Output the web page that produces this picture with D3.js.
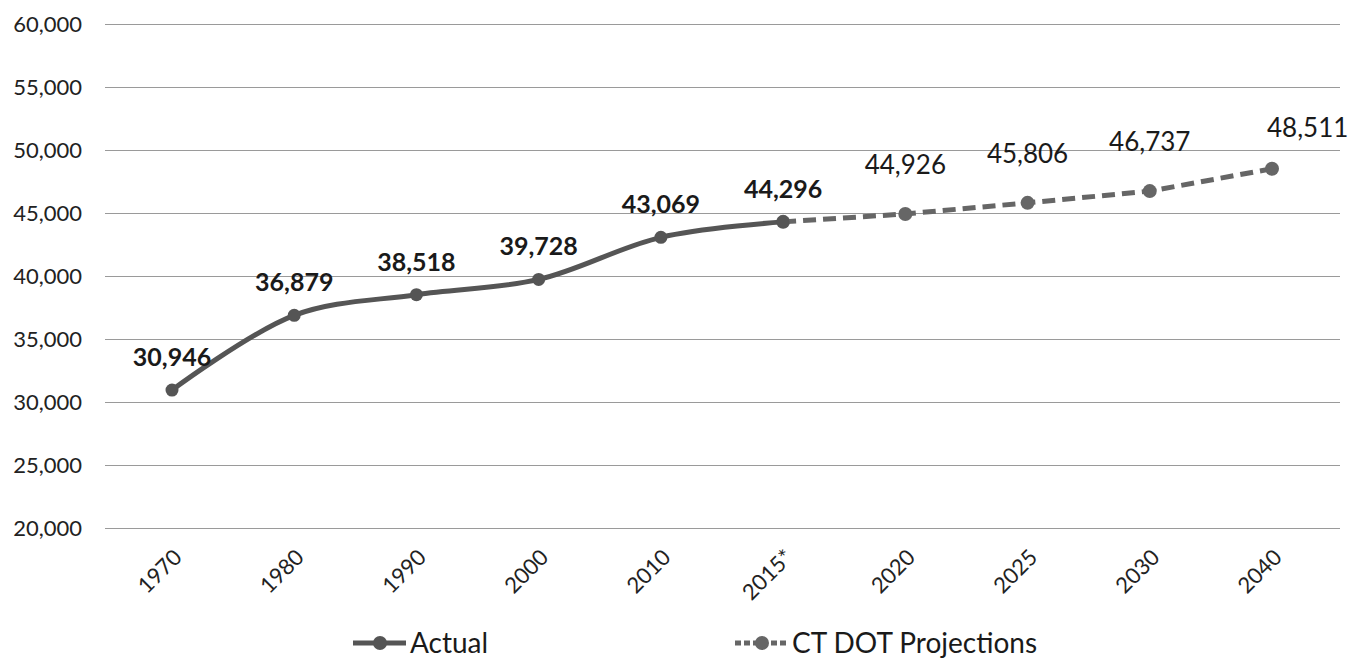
<!DOCTYPE html>
<html>
<head>
<meta charset="utf-8">
<script src="https://cdn.jsdelivr.net/npm/d3@7"></script>
<style>
  body { margin: 0; background: #fff; }
  .grid line { stroke: #9a9a9a; stroke-width: 1; }
  .grid .domain { display: none; }
  .axis text { font-family: Lato, "Noto Sans", sans-serif; fill: #222; }
  .axis .domain, .axis line { display: none; }
</style>
</head>
<body>
<div id="chart"></div>
<script>
// categories and values
var years = ["1970", "1980", "1990", "2000", "2010", "2015*", "2020", "2025", "2030", "2040"];
var actualYears = ["1970", "1980", "1990", "2000", "2010", "2015*"];
var actualValues = [30946, 36879, 38518, 39728, 43069, 44296];
var projYears = ["2015*", "2020", "2025", "2030", "2040"];
var projValues = [44296, 44926, 45806, 46737, 48511];
var yTicks = [20000, 25000, 30000, 35000, 40000, 45000, 50000, 55000, 60000];
var legendLabels = ["Actual", "CT DOT Projections"];

var width = 1349, height = 661;

var svg = d3.select("#chart").append("svg")
    .attr("width", width)
    .attr("height", height);

// scales
var x = d3.scalePoint().domain(years).range([172, 1272]);
var y = d3.scaleLinear().domain([20000, 60000]).range([528, 24]);

var fmt = d3.format(",");

// gridlines
svg.append("g")
    .attr("class", "grid")
    .attr("transform", "translate(105,0)")
    .call(d3.axisLeft(y).tickValues(yTicks).tickSize(-1235).tickFormat(""));

// y axis labels
var yAxis = svg.append("g")
    .attr("class", "axis")
    .attr("transform", "translate(82,0)")
    .call(d3.axisLeft(y).tickValues(yTicks).tickSize(0).tickPadding(0).tickFormat(fmt));
yAxis.selectAll("text").style("font-size", "22px").attr("dy", "0.36em");

// x axis labels (rotated)
var xAxis = svg.append("g")
    .attr("class", "axis")
    .attr("transform", "translate(6,554)")
    .call(d3.axisBottom(x).tickSize(0).tickPadding(0));
xAxis.selectAll("text")
    .style("font-size", "22px")
    .style("text-anchor", "end")
    .attr("dy", "0.3em")
    .attr("y", 0)
    .attr("transform", "rotate(-45)");

var actual = actualYears.map(function(d, i) { return {year: d, value: actualValues[i]}; });
var proj = projYears.map(function(d, i) { return {year: d, value: projValues[i]}; });

var lineSmooth = d3.line()
    .x(function(d) { return x(d.year); })
    .y(function(d) { return y(d.value); })
    .curve(d3.curveCatmullRom.alpha(0.5));
var lineStraight = d3.line()
    .x(function(d) { return x(d.year); })
    .y(function(d) { return y(d.value); });

// projection line (dashed)
svg.append("path")
    .attr("d", lineStraight(proj))
    .attr("fill", "none")
    .attr("stroke", "#666")
    .attr("stroke-width", 5)
    .attr("stroke-dasharray", "13,7");

svg.selectAll(".pdot").data(proj).enter().append("circle")
    .attr("cx", function(d) { return x(d.year); })
    .attr("cy", function(d) { return y(d.value); })
    .attr("r", 7)
    .attr("fill", "#666");

// actual line (solid)
svg.append("path")
    .attr("d", lineSmooth(actual))
    .attr("fill", "none")
    .attr("stroke", "#555")
    .attr("stroke-width", 5);

svg.selectAll(".adot").data(actual).enter().append("circle")
    .attr("cx", function(d) { return x(d.year); })
    .attr("cy", function(d) { return y(d.value); })
    .attr("r", 6.5)
    .attr("fill", "#555");

// data labels
svg.selectAll(".alab").data(actual).enter().append("text")
    .attr("x", function(d) { return x(d.year); })
    .attr("y", function(d) { return y(d.value) - 24; })
    .attr("text-anchor", "middle")
    .style("font-family", "Lato, sans-serif")
    .style("font-weight", "bold")
    .style("font-size", "25px")
    .style("fill", "#1a1a1a")
    .text(function(d) { return fmt(d.value); });

svg.selectAll(".plab").data(proj.slice(1)).enter().append("text")
    .attr("x", function(d, i, n) { return i === n.length - 1 ? x(d.year) - 5 : x(d.year); })
    .attr("y", function(d, i, n) { return y(d.value) - (i === n.length - 1 ? 32 : 40); })
    .attr("text-anchor", function(d, i, n) { return i === n.length - 1 ? "start" : "middle"; })
    .style("font-family", "Lato, sans-serif")
    .style("font-size", "26px")
    .style("fill", "#1a1a1a")
    .text(function(d) { return fmt(d.value); });

// legend
var legend = svg.append("g");
var legendX = [380, 762];
legendLabels.forEach(function(name, i) {
    var g = legend.append("g").attr("transform", "translate(" + legendX[i] + ",643)");
    g.append("line")
        .attr("x1", -27).attr("x2", 26)
        .attr("stroke", i === 0 ? "#555" : "#666")
        .attr("stroke-width", 5)
        .attr("stroke-dasharray", i === 0 ? null : "6,3");
    g.append("circle").attr("r", 7).attr("fill", i === 0 ? "#555" : "#666");
    g.append("text")
        .attr("x", 30)
        .attr("y", 10)
        .style("font-family", "Lato, sans-serif")
        .style("font-size", "28px")
        .style("fill", "#1a1a1a")
        .text(name);
});
</script>
</body>
</html>
